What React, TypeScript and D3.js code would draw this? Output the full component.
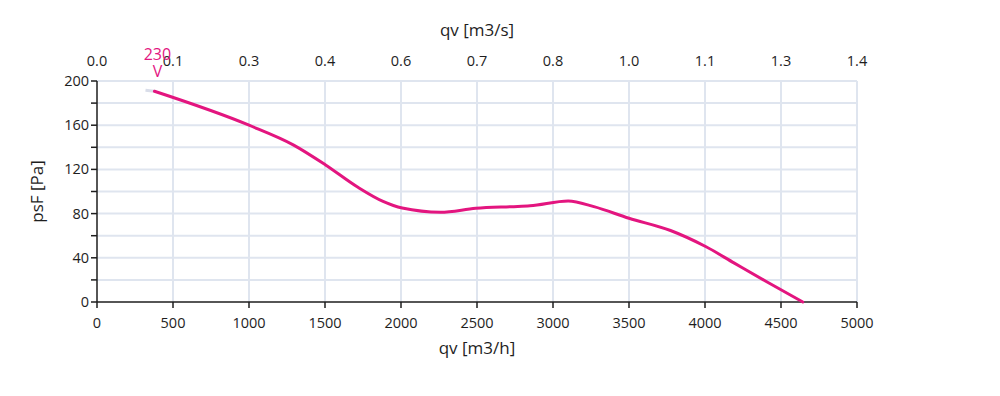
import React from 'react';
import * as d3 from 'd3';

// qv [m3/h] vs psF [Pa]
const qvFlow = [378, 1000, 1294, 1504, 1714, 1882, 2008, 2260, 2492, 2723, 2849, 3100, 3269, 3500, 3773, 4004, 4193, 4403, 4643];
const psF = [190.7, 160, 142, 124, 104, 91, 85, 81.2, 84.8, 86.3, 87, 91.4, 86.3, 75.8, 64.7, 50.2, 35.2, 18.6, 0];

// low-flow part outside the working range (drawn pale)
const paleFlow = [319, 378];
const palePsF = [191.6, 190.7];

const xTicks = [0, 500, 1000, 1500, 2000, 2500, 3000, 3500, 4000, 4500, 5000];
const topTickLabels = ['0.0', '0.1', '0.3', '0.4', '0.6', '0.7', '0.8', '1.0', '1.1', '1.3', '1.4'];
const yTicks = [0, 20, 40, 60, 80, 100, 120, 140, 160, 180, 200];
const yLabelTicks = [0, 40, 80, 120, 160, 200];

const markerLabel = '230';

const App = () => {
  const width = 1000;
  const height = 396;
  const left = 97, right = 857, top = 81, bottom = 302;
  const pink = '#e3157f';
  const grid = '#dfe5ef';
  const ink = '#1e1e1e';
  const font = '"Open Sans", Roboto, sans-serif';

  const xScale = d3.scaleLinear().domain([0, 5000]).range([left, right]);
  const yScale = d3.scaleLinear().domain([0, 200]).range([bottom, top]);

  const line = d3.line<number>()
    .x(d => xScale(d))
    .y((d, i) => yScale(psF[i]))
    .curve(d3.curveMonotoneX);

  const paleLine = d3.line<number>()
    .x(d => xScale(d))
    .y((d, i) => yScale(palePsF[i]));

  const path = line(qvFlow);
  const markerX = xScale(qvFlow[0]);

  return (
    <svg width={width} height={height} style={{ position: 'absolute', left: 0, top: 0, background: '#fff' }} fontFamily={font}>
      {/* grid */}
      {xTicks.slice(1).map(t => (
        <line key={'gx' + t} x1={xScale(t)} x2={xScale(t)} y1={top} y2={bottom} stroke={grid} strokeWidth={2} />
      ))}
      {yTicks.slice(1).map(t => (
        <line key={'gy' + t} x1={left} x2={right} y1={yScale(t)} y2={yScale(t)} stroke={grid} strokeWidth={2} />
      ))}

      {/* left axis */}
      <line x1={left} x2={left} y1={top} y2={bottom} stroke={ink} strokeWidth={1.5} />
      {yTicks.map(t => (
        <line key={'ty' + t} x1={left - 6} x2={left} y1={yScale(t)} y2={yScale(t)} stroke={ink} strokeWidth={1.5} />
      ))}
      {yLabelTicks.map(t => (
        <text key={'ly' + t} x={left - 8} y={yScale(t)} dy="0.35em" textAnchor="end" fontSize={14.5} fill={ink}>{t}</text>
      ))}
      <text transform={`translate(37,${(top + bottom) / 2}) rotate(-90)`} textAnchor="middle" dy="0.35em" fontSize={17} fill={ink}>psF [Pa]</text>

      {/* bottom axis */}
      <line x1={left} x2={right} y1={bottom} y2={bottom} stroke={ink} strokeWidth={1.5} />
      {xTicks.map(t => (
        <line key={'tx' + t} x1={xScale(t)} x2={xScale(t)} y1={bottom} y2={bottom + 6} stroke={ink} strokeWidth={1.5} />
      ))}
      {xTicks.map(t => (
        <text key={'lx' + t} x={xScale(t)} y={323} dy="0.35em" textAnchor="middle" fontSize={14.5} fill={ink}>{t}</text>
      ))}
      <text x={(left + right) / 2} y={348} dy="0.35em" textAnchor="middle" fontSize={17} fill={ink}>qv [m3/h]</text>

      {/* top axis (m3/s) */}
      {xTicks.map((t, i) => (
        <text key={'lt' + t} x={xScale(t)} y={61} dy="0.35em" textAnchor="middle" fontSize={14.5} fill={ink}>{topTickLabels[i]}</text>
      ))}
      <text x={(left + right) / 2} y={30} dy="0.35em" textAnchor="middle" fontSize={17} fill={ink}>qv [m3/s]</text>

      {/* curve */}
      <path d={paleLine(paleFlow) || ''} fill="none" stroke="#d9dde9" strokeWidth={3} />
      <path d={path || ''} fill="none" stroke={pink} strokeWidth={3} strokeLinecap="round" />

      {/* speed marker */}
      <text x={markerX + 3} y={54} dy="0.35em" textAnchor="middle" fontSize={16} fill={pink}>{markerLabel}</text>
      <text x={markerX + 3} y={71} dy="0.35em" textAnchor="middle" fontSize={16} fill={pink}>V</text>
    </svg>
  );
};

export default App;
